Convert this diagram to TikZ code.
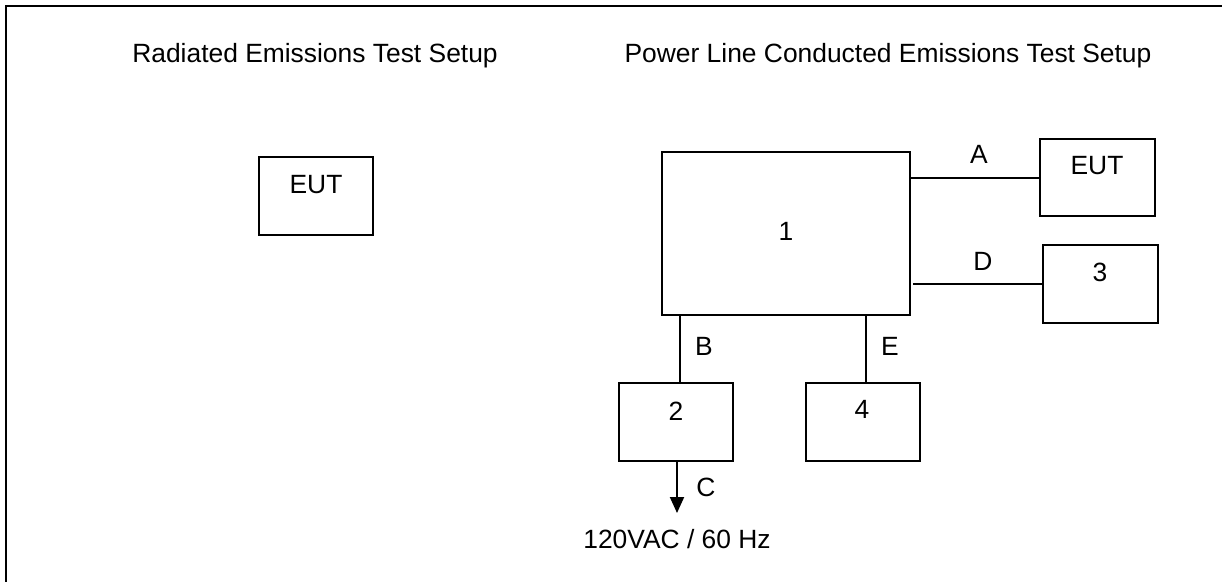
\documentclass[tikz,border=0pt]{standalone}
\usepackage{fontspec}
\setmainfont{Liberation Sans}
\usepackage{tikz}
\usetikzlibrary{arrows.meta,positioning}

\begin{document}
\begin{tikzpicture}[x=1pt, y=-1pt, >={Triangle[length=16pt,width=14pt]}, line join=miter,
  box/.style={draw, line width=2pt, rectangle, inner sep=0pt, outer sep=0pt},
  lbl/.style={anchor=base, inner sep=0pt, font=\fontsize{26.4}{31}\selectfont},
  wire/.style={line width=2pt}]
  \useasboundingbox (0,0) rectangle (1222,581);
  \draw[line width=2.5pt] (6,600) -- (6,6) -- (1240,6);
  \node[lbl] (ttlrad) at (315,62) {Radiated Emissions Test Setup};
  \node[lbl] (ttlcond) at (888,62) {Power Line Conducted Emissions Test Setup};
  \node[box, minimum width=114pt, minimum height=78pt] (eutrad) at (316,196) {};
  \node[box, minimum width=248pt, minimum height=163pt] (unit1) at (786,233.5) {};
  \node[box, minimum width=115pt, minimum height=77pt] (eutcond) at (1097.5,177.5) {};
  \node[box, minimum width=115pt, minimum height=78pt] (unit3) at (1100.5,284) {};
  \node[box, minimum width=114pt, minimum height=78pt] (unit2) at (676,422) {};
  \node[box, minimum width=114pt, minimum height=78pt] (unit4) at (863,422) {};
  \coordinate (ctip) at (677,513);
  \draw[wire] (eutcond.west -| unit1.east) -- (eutcond.west);
  \draw[wire] ([xshift=3pt]unit3.west -| unit1.east) -- (unit3.west);
  \draw[wire] ([xshift=4pt]unit1.south -| unit2.north) -- ([xshift=4pt]unit2.north);
  \draw[wire] ([xshift=3pt]unit1.south -| unit4.north) -- ([xshift=3pt]unit4.north);
  \draw[wire,->] ([xshift=1pt]unit2.south) -- (ctip);
  \node[lbl] (eutradtxt) at (316,193) {EUT};
  \node[lbl] (eutcondtxt) at (1097,174) {EUT};
  \node[lbl] (unit1txt) at (786,240) {1};
  \node[lbl] (unit2txt) at (676,420) {2};
  \node[lbl] (unit3txt) at (1100,281) {3};
  \node[lbl] (unit4txt) at (862,418) {4};
  \node[lbl] (wireA) at (979,163) {A};
  \node[lbl] (wireB) at (704,355) {B};
  \node[lbl] (wireC) at (706,496) {C};
  \node[lbl] (wireD) at (983,270) {D};
  \node[lbl] (wireE) at (890,355) {E};
  \node[lbl] (mains) at (677,548) {120VAC / 60 Hz};
\end{tikzpicture}
\end{document}
